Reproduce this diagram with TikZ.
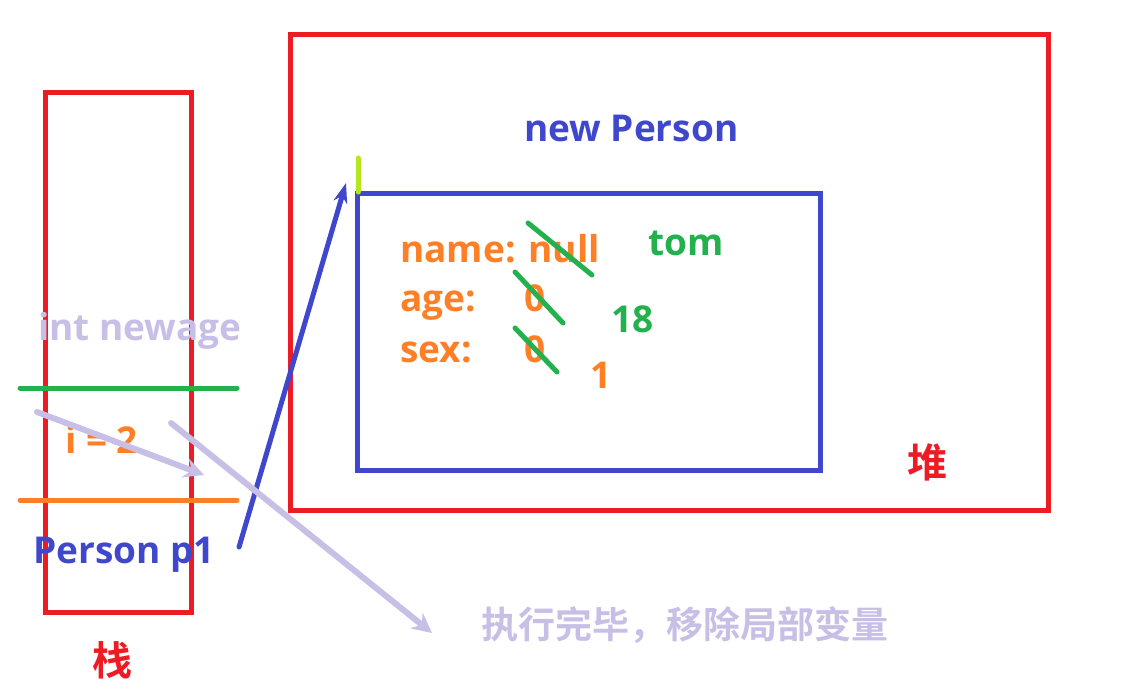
\documentclass[tikz,border=0pt]{standalone}
\usepackage{fontspec}
\setmainfont{Open Sans}
\newfontfamily\cjk{Noto Sans CJK SC Bold}
\usetikzlibrary{arrows.meta}

\definecolor{hred}{HTML}{ED1C24}
\definecolor{hblue}{HTML}{3F48CC}
\definecolor{horange}{HTML}{FF7F27}
\definecolor{hgreen}{HTML}{22B14C}
\definecolor{hlav}{HTML}{C8BFE7}
\definecolor{hlime}{HTML}{B5E61D}

\begin{document}
\begin{tikzpicture}[x=1pt,y=-1pt,
    txt/.style={font=\fontsize{37}{40}\selectfont\bfseries, inner sep=0pt, anchor=base west},
    cn/.style={font=\cjk\fontsize{37}{40}\selectfont, inner sep=0pt},
    box/.style={line width=5pt},
    bar/.style={line width=5pt, line cap=round},
    move/.style={hlav, line width=6pt, line cap=round, -{Stealth[length=20pt,width=20pt,inset=7pt]}}]
    \useasboundingbox (0,0) rectangle (1141,695);

    % Стек
    \draw[box,hred] (45,93) rectangle (191,612);
    \node[cn,hred,font=\cjk\fontsize{40}{44}\selectfont] (stack) at (112,660) {栈};
    \node[txt,hlav] (newage) at (38,340) {int newage};
    \draw[bar,hgreen] (20,388) -- (237,388);
    \node[txt,horange] (ival) at (65,453) {i = 2};
    \draw[bar,horange] (20,500) -- (237,500);
    \node[txt,hblue] (pone) at (33,563) {Person p1};

    % Куча
    \draw[box,hred] (290,35) rectangle (1048,510);
    \node[cn,hred,font=\cjk\fontsize{40}{44}\selectfont] (heap) at (927,462) {堆};
    \node[txt,hblue] (newperson) at (524,142) {new Person};
    \draw[box,hblue] (357,194) rectangle (820,470);
    \draw[bar,hlime] (358,158) -- (358,192);

    % Поля объекта
    \node[txt,horange] (fname) at (400,262) {name: null};
    \foreach \y/\f in {312/age, 362/sex}
    {
        \node[txt,horange] (f\f) at (400,\y) {\f:};
        \node[txt,horange] (v\f) at (524,\y) {0};
    }

    % Новые значения
    \node[txt,hgreen] (tom) at (648,256) {tom};
    \node[txt,hgreen] (eighteen) at (611,332) {18};
    \node[txt,horange] (one) at (590,388) {1};
    \foreach \xa/\ya/\xb/\yb in {528/223/592/275, 515/272/563/323, 515/328/557/372}
    {
        \draw[bar,hgreen] (\xa,\ya) -- (\xb,\yb);
    }

    % Ссылка
    \coordinate (objref) at (346,183);
    \draw[hblue, line width=5pt, line cap=round, -{Stealth[length=20pt,width=14pt]}]
        ([xshift=24pt,yshift=16pt]pone.base east) -- (objref);

    % Выход из метода
    \node[cn,hlav] (done) at (685,625) {执行完毕，移除局部变量};
    \coordinate (s1) at (37,412);
    \coordinate (e1) at (204,475);
    \coordinate (s2) at (171,423);
    \coordinate (e2) at (432,633);
    \draw[move] (s1) -- (e1);
    \draw[move] (s2) -- (e2);
\end{tikzpicture}
\end{document}
